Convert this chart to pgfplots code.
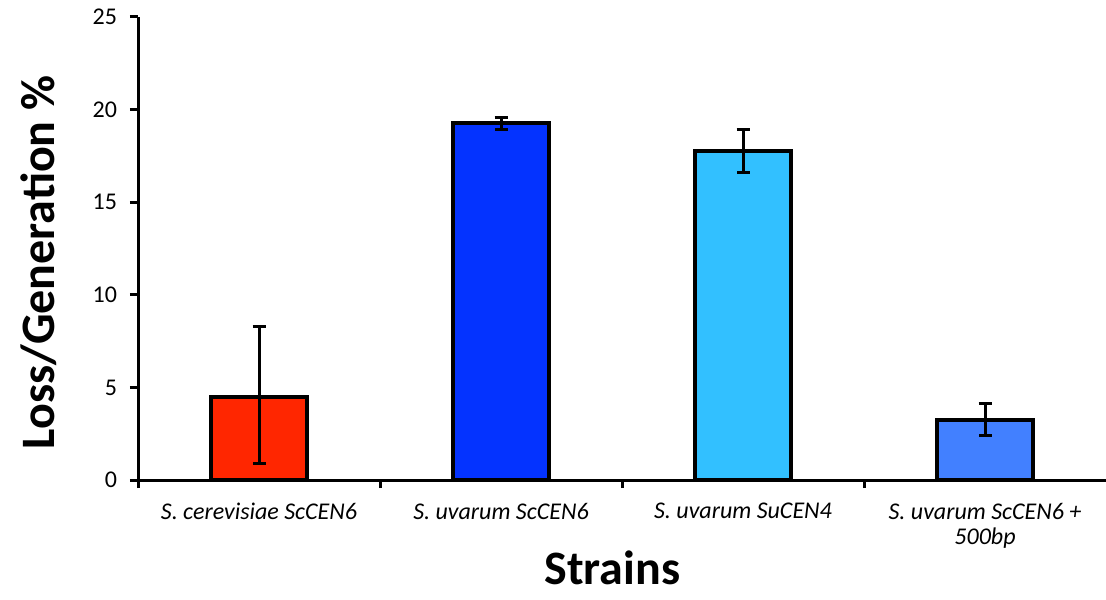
\documentclass[border=0pt]{standalone}
\usepackage{fontspec}
\setmainfont{Carlito}
\usepackage{pgfplots}
\pgfplotsset{compat=1.18}
\definecolor{cred}{RGB}{255,38,0}
\definecolor{cblue}{RGB}{4,51,255}
\definecolor{clight}{RGB}{50,192,255}
\definecolor{cmid}{RGB}{66,128,255}
\begin{document}
\begin{tikzpicture}[x=1pt,y=1pt]
\begin{axis}[
  at={(0,0)}, anchor=south west,
  width=484pt, height=231.5pt, scale only axis,
  xmin=-0.5, xmax=3.5, ymin=0, ymax=25,
  axis lines=left,
  axis line style={-, line width=1.5pt, black},
  ytick={0,5,10,15,20,25},
  xtick={0,1,2,3},
  xticklabels={{S. cerevisiae ScCEN6},{S. uvarum ScCEN6},{S. uvarum SuCEN4},{S. uvarum ScCEN6 +\\500bp}},
  minor xtick={-0.5,0.5,1.5,2.5},
  major x tick style={draw=none},
  tick align=outside,
  major tick length=4pt, minor tick length=4pt,
  every tick/.style={black, line width=1.5pt},
  minor tick style={black, line width=1.5pt},
  x tick label style={font=\itshape\fontsize{12}{12.5}\selectfont, align=center, anchor=north, yshift=-4pt},
  y tick label style={font=\fontsize{12}{13}\selectfont, xshift=-3pt},
  /pgf/number format/assume math mode=true,
  ylabel={Loss/Generation \%},
  xlabel={Strains},
  every axis y label/.style={at={(axis description cs:-0.103,0.47)}, rotate=90, anchor=center, inner sep=0pt, font=\bfseries\fontsize{24}{28}\selectfont},
  every axis x label/.style={at={(axis description cs:0.49,-0.19)}, anchor=center, inner sep=0pt, font=\bfseries\fontsize{24}{28}\selectfont},
  ybar, bar width=0.4, bar shift=0pt,
  error bars/y dir=both, error bars/y explicit,
  error bars/error bar style={line width=1.5pt, black},
  error bars/error mark options={rotate=90, mark size=3.25pt, line width=1.5pt, black},
]
\addplot[fill=cred, draw=black, line width=2pt] coordinates {(0,4.5) += (0,3.8) -= (0,3.6)};
\addplot[fill=cblue, draw=black, line width=2pt] coordinates {(1,19.25) +- (0,0.3)};
\addplot[fill=clight, draw=black, line width=2pt] coordinates {(2,17.75) +- (0,1.15)};
\addplot[fill=cmid, draw=black, line width=2pt] coordinates {(3,3.25) += (0,0.88) -= (0,0.85)};
\end{axis}
\pgfresetboundingbox
\path[use as bounding box] (-69,-59.5) rectangle (484,240);
\end{tikzpicture}
\end{document}
